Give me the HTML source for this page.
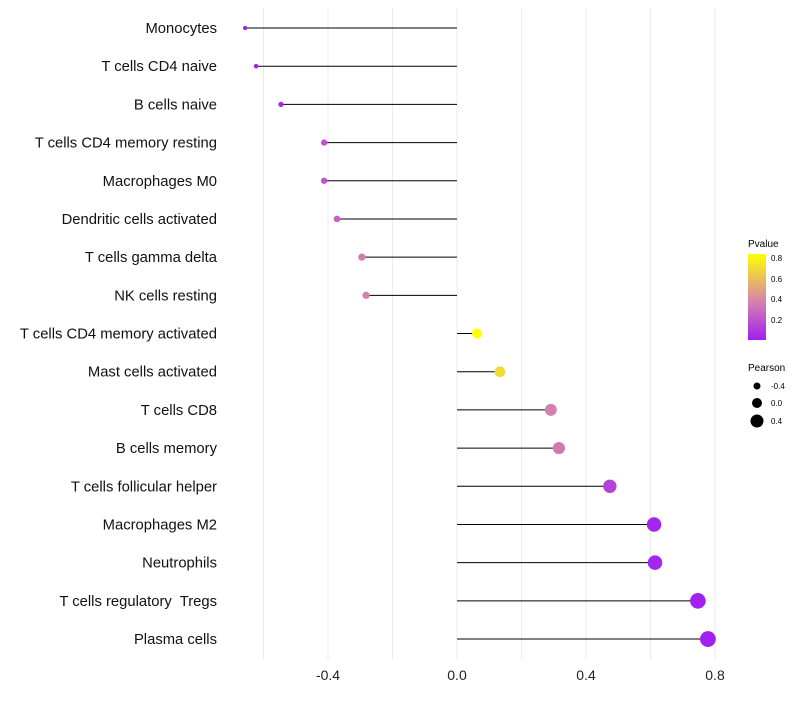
<!DOCTYPE html>
<html><head><meta charset="utf-8"><style>
body{margin:0;background:#fff;font-family:"Liberation Sans",sans-serif}
text{white-space:pre}
</style></head><body>
<svg id="c" width="800" height="700" xmlns="http://www.w3.org/2000/svg">
<defs><linearGradient id="pg" x1="0" y1="1" x2="0" y2="0">
<stop offset="0" stop-color="#a020f0"/><stop offset="0.45" stop-color="#d683ac"/><stop offset="1" stop-color="#ffff00"/>
</linearGradient></defs>
<g id="grid"></g><g id="marks"></g><g id="labels"></g>
<g font-size="10">
<text x="748" y="247" fill="#000">Pvalue</text>
<rect x="748" y="254" width="18" height="86" fill="url(#pg)"/>
<text x="771" y="261" font-size="8">0.8</text>
<text x="771" y="282" font-size="8">0.6</text>
<text x="771" y="302" font-size="8">0.4</text>
<text x="771" y="323" font-size="8">0.2</text>
</g>
<g font-size="10">
<text x="748" y="371">Pearson</text>
<circle cx="757" cy="386" r="3.5"/><text x="771" y="389" font-size="8">-0.4</text>
<circle cx="757" cy="403" r="5"/><text x="771" y="406" font-size="8">0.0</text>
<circle cx="757" cy="421" r="6.5"/><text x="771" y="424" font-size="8">0.4</text>
</g>
</svg>
<script>
const categories=["Monocytes","T cells CD4 naive","B cells naive","T cells CD4 memory resting","Macrophages M0","Dendritic cells activated","T cells gamma delta","NK cells resting","T cells CD4 memory activated","Mast cells activated","T cells CD8","B cells memory","T cells follicular helper","Macrophages M2","Neutrophils","T cells regulatory  Tregs","Plasma cells"];
const pearson=[-0.657,-0.623,-0.546,-0.412,-0.412,-0.372,-0.295,-0.282,0.062,0.133,0.291,0.316,0.474,0.611,0.614,0.747,0.778];
const pvalue=[0.01,0.02,0.04,0.2,0.2,0.25,0.35,0.37,0.84,0.7,0.37,0.34,0.14,0.03,0.03,0.01,0.01];
const ticks=[-0.4,0.0,0.4,0.8];
const NS="http://www.w3.org/2000/svg";
const x=v=>457+v*322.5, y=i=>28+i*38.19;
function col(p){const t=Math.max(0,Math.min(1,(p-0.006)/0.834));
const s=[[160,32,240],[214,131,172],[255,255,0]];let a,b,u;
if(t<0.45){a=s[0];b=s[1];u=t/0.45}else{a=s[1];b=s[2];u=(t-0.45)/0.55}
return`rgb(${a.map((c,k)=>Math.round(c+(b[k]-c)*u)).join(',')})`}
function mk(tag,at,par){const e=document.createElementNS(NS,tag);for(const k in at)e.setAttribute(k,at[k]);document.getElementById(par).appendChild(e);return e}
[-0.6,-0.4,-0.2,0,0.2,0.4,0.6,0.8].forEach(v=>{const l=mk('line',{x1:x(v),x2:x(v),y1:8,y2:660,stroke:'#ebebeb','stroke-width':1},'grid');

});
ticks.forEach(v=>{const t=mk('text',{x:x(v),y:680,'text-anchor':'middle','font-size':14,fill:'#222'},'labels');t.textContent=v.toFixed(1);

});
categories.forEach((c,i)=>{
const l=mk('line',{x1:x(0),x2:x(pearson[i]),y1:y(i),y2:y(i),stroke:'#000','stroke-width':1},'marks');


const p=mk('circle',{cx:x(pearson[i]),cy:y(i),r:4.8+4*pearson[i],fill:col(pvalue[i])},'marks');


const t=mk('text',{x:217,y:y(i)+5,'text-anchor':'end','font-size':14.8,fill:'#111'},'labels');t.textContent=c;

});
</script>
</body></html>
